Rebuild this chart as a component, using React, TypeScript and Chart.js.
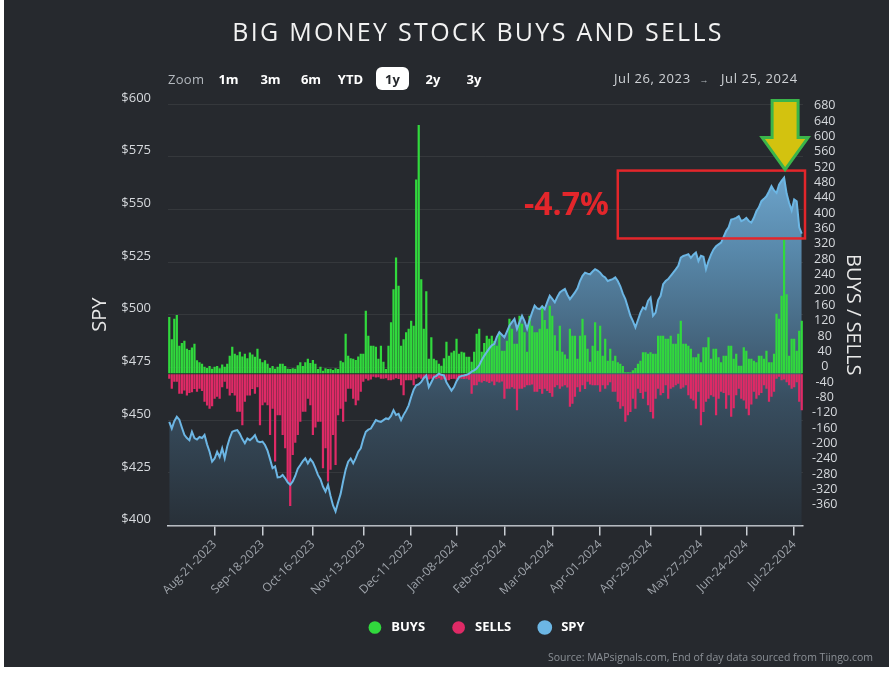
import React, { useEffect, useRef } from 'react';
import { Chart, registerables } from 'chart.js';

Chart.register(...registerables);

const FONT = '"Open Sans", "Noto Sans", sans-serif';

// ---------- data ----------
const HOLIDAYS = ['2023-09-04', '2023-11-23', '2023-12-25', '2024-01-01', '2024-01-15', '2024-02-19', '2024-03-29', '2024-05-27', '2024-06-19', '2024-07-04'];

function tradingDays(start: string, end: string): string[] {
  const out: string[] = [];
  const d = new Date(start + 'T12:00:00Z');
  const e = new Date(end + 'T12:00:00Z');
  while (d <= e) {
    const wd = d.getUTCDay();
    const iso = d.toISOString().slice(0, 10);
    if (wd !== 0 && wd !== 6 && !HOLIDAYS.includes(iso)) out.push(iso);
    d.setUTCDate(d.getUTCDate() + 1);
  }
  return out;
}

const DATES = tradingDays('2023-07-26', '2024-07-25');

const BUYS = [
  148, 90, 143, 153, 73, 80, 86, 65, 62, 68,
  78, 35, 30, 26, 18, 15, 20, 13, 18, 20,
  14, 24, 18, 26, 47, 70, 52, 48, 57, 45,
  52, 40, 55, 50, 44, 65, 39, 30, 35, 26,
  15, 20, 13, 18, 26, 26, 20, 13, 12, 14,
  13, 22, 30, 20, 30, 39, 28, 36, 26, 12,
  18, 8, 14, 12, 13, 10, 14, 12, 34, 30,
  104, 47, 40, 39, 36, 45, 52, 52, 164, 99,
  73, 73, 70, 39, 73, 31, 12, 73, 134, 220,
  303, 229, 73, 90, 108, 117, 138, 125, 506, 648,
  246, 117, 215, 39, 95, 39, 35, 26, 21, 40,
  83, 47, 55, 60, 91, 52, 57, 55, 44, 44,
  31, 57, 104, 117, 57, 80, 99, 91, 99, 85,
  73, 108, 60, 60, 86, 143, 117, 78, 78, 151,
  130, 108, 57, 151, 125, 108, 108, 117, 177, 140,
  117, 177, 151, 100, 60, 125, 57, 50, 39, 117,
  99, 99, 39, 99, 143, 100, 65, 31, 73, 134,
  60, 125, 47, 91, 34, 65, 34, 47, 30, 26,
  20, 4, 4, 4, 9, 15, 26, 34, 56, 56,
  52, 56, 52, 52, 99, 99, 99, 91, 91, 99,
  78, 78, 104, 138, 78, 78, 73, 65, 43, 43,
  52, 30, 69, 69, 95, 39, 65, 65, 43, 30,
  47, 47, 73, 73, 39, 52, 21, 21, 69, 60,
  39, 39, 34, 30, 47, 47, 39, 60, 30, 30,
  52, 156, 143, 203, 350, 207, 47, 91, 91, 60,
  112, 138,
];

const SELLS = [
  -13, -39, -21, -21, -52, -52, -44, -57, -50, -48,
  -40, -47, -39, -45, -73, -83, -91, -85, -65, -60,
  -65, -35, -21, -39, -57, -50, -57, -99, -99, -134,
  -73, -57, -57, -40, -52, -35, -134, -82, -75, -82,
  -160, -91, -229, -108, -108, -160, -194, -281, -345, -212,
  -180, -160, -125, -99, -99, -65, -82, -160, -140, -125,
  -125, -246, -194, -281, -250, -160, -238, -108, -91, -125,
  -73, -39, -39, -65, -82, -70, -47, -21, -13, -18,
  -15, -8, -10, -9, -13, -13, -12, -17, -17, -15,
  -12, -14, -30, -56, -17, -17, -17, -30, -13, -10,
  -13, -13, -12, -15, -13, -11, -14, -12, -16, -13,
  -17, -17, -14, -13, -15, -12, -13, -14, -13, -16,
  -52, -30, -30, -21, -23, -19, -21, -24, -20, -30,
  -21, -23, -20, -65, -39, -39, -35, -39, -95, -39,
  -39, -35, -30, -30, -28, -47, -47, -40, -52, -39,
  -45, -50, -60, -35, -30, -39, -33, -30, -36, -86,
  -78, -60, -35, -47, -30, -40, -21, -28, -30, -30,
  -30, -47, -30, -39, -30, -22, -47, -47, -73, -91,
  -85, -125, -108, -100, -65, -91, -39, -50, -65, -47,
  -82, -100, -117, -65, -39, -56, -50, -30, -65, -39,
  -35, -30, -26, -39, -36, -30, -56, -65, -70, -91,
  -47, -134, -100, -73, -65, -56, -60, -108, -65, -47,
  -50, -91, -56, -112, -90, -56, -39, -65, -70, -91,
  -108, -80, -47, -65, -56, -50, -30, -39, -73, -60,
  -47, -13, -8, -17, -15, -22, -30, -39, -35, -22,
  -73, -95,
];

const SPY = [
  449.2, 446.0, 449.5, 451.6, 450.2, 446.5, 443.0, 441.5, 440.5, 444.5,
  441.5, 440.8, 442.0, 441.5, 443.0, 438.5, 435.0, 430.3, 431.8, 435.0,
  432.5, 436.6, 431.9, 437.5, 441.5, 444.5, 445.0, 445.3, 443.5, 441.0,
  439.0, 441.3, 440.5, 441.5, 442.9, 440.0, 439.5, 439.8, 438.2, 435.5,
  431.5, 427.2, 428.0, 422.8, 423.0, 424.0, 422.4, 420.5, 419.3, 420.9,
  423.5, 427.0, 428.7, 430.5, 431.9, 429.5, 431.5, 430.0, 427.2, 424.0,
  422.0, 418.5, 416.1, 419.3, 414.0, 409.5, 406.7, 411.0, 415.0, 421.0,
  426.5, 430.3, 431.8, 429.5, 432.0, 435.0, 436.6, 441.0, 444.5, 445.5,
  446.0, 448.0, 450.0, 449.5, 449.2, 450.0, 450.8, 450.5, 452.0, 454.7,
  452.5, 453.0, 450.0, 452.5, 454.5, 457.0, 461.0, 464.5, 466.5, 467.0,
  468.1, 470.0, 471.2, 465.7, 468.0, 470.4, 471.0, 472.0, 471.5, 471.2,
  468.0, 466.0, 464.0, 465.7, 468.5, 470.4, 471.0, 471.2, 471.5, 472.0,
  473.0, 473.6, 474.5, 476.0, 478.5, 480.5, 482.3, 484.0, 485.5, 486.2,
  489.5, 491.7, 490.5, 489.3, 492.0, 494.8, 496.5, 498.0, 493.3, 496.5,
  499.5, 497.0, 493.3, 497.5, 501.1, 504.3, 503.0, 502.7, 504.0, 502.7,
  506.0, 509.0, 507.5, 505.9, 508.5, 510.6, 511.5, 512.2, 509.5, 507.4,
  509.0, 510.6, 512.5, 516.0, 518.5, 520.0, 519.5, 519.2, 520.5, 521.6,
  521.0, 520.0, 518.5, 517.7, 516.0, 516.5, 516.9, 517.7, 516.0, 513.5,
  510.0, 507.4, 503.5, 499.5, 497.0, 494.0, 497.5, 501.0, 503.5, 502.7,
  506.6, 508.2, 499.5, 501.0, 507.0, 509.0, 514.5, 516.0, 516.9, 518.5,
  520.0, 521.5, 523.2, 527.1, 527.9, 528.3, 528.7, 527.0, 528.5, 529.5,
  525.5, 528.0, 527.5, 521.6, 525.5, 528.5, 531.0, 532.5, 533.4, 534.2,
  537.0, 539.7, 541.5, 545.2, 545.5, 546.0, 546.8, 544.4, 545.0, 546.0,
  544.5, 543.7, 546.0, 549.1, 551.0, 553.9, 555.0, 556.2, 558.5, 561.0,
  559.0, 557.8, 561.7, 563.5, 565.0, 557.5, 553.0, 549.5, 554.7, 553.8,
  541.5, 538.5,
];

const X_TICK_DATES = ['2023-08-21', '2023-09-18', '2023-10-16', '2023-11-13', '2023-12-11', '2024-01-08', '2024-02-05', '2024-03-04', '2024-04-01', '2024-04-29', '2024-05-27', '2024-06-24', '2024-07-22'];
const X_TICK_LABELS = ['Aug-21-2023', 'Sep-18-2023', 'Oct-16-2023', 'Nov-13-2023', 'Dec-11-2023', 'Jan-08-2024', 'Feb-05-2024', 'Mar-04-2024', 'Apr-01-2024', 'Apr-29-2024', 'May-27-2024', 'Jun-24-2024', 'Jul-22-2024'];
const SPY_TICKS = [400, 425, 450, 475, 500, 525, 550, 575, 600];
const BS_TICKS = [-360, -320, -280, -240, -200, -160, -120, -80, -40, 0, 40, 80, 120, 160, 200, 240, 280, 320, 360, 400, 440, 480, 520, 560, 600, 640, 680];

// annotation (in data units)
const DROP_LABEL = '-4.7%';
const BOX_FROM_DATE = '2024-04-10';
const BOX_TOP = 568.4;
const BOX_BOTTOM = 536.2;

const BG = '#26292e';
const GREEN = '#31d93d';
const RED = '#df2a66';
const BLUE = '#6cb6e4';

const annotationPlugin = {
  id: 'dropAnnotation',
  afterDatasetsDraw(chart: any) {
    const { ctx, chartArea, scales } = chart;
    const xs = scales.x;
    const ys = scales.yL;
    const fromIdx = DATES.findIndex((d) => d >= BOX_FROM_DATE);
    const left = xs.getPixelForValue(fromIdx);
    const right = chartArea.right + 2;
    const top = ys.getPixelForValue(BOX_TOP);
    const bottom = ys.getPixelForValue(BOX_BOTTOM);
    ctx.save();
    ctx.strokeStyle = '#e3262b';
    ctx.lineWidth = 2.5;
    ctx.strokeRect(left, top, right - left, bottom - top);
    ctx.fillStyle = '#e3262b';
    ctx.font = `bold 32px ${FONT}`;
    ctx.textAlign = 'right';
    ctx.textBaseline = 'middle';
    ctx.fillText(DROP_LABEL, left - 9, (top + bottom) / 2 + 1);

    // arrow pointing at the SPY peak
    let peak = 0;
    SPY.forEach((v, i) => { if (v > SPY[peak]) peak = i; });
    const tx = xs.getPixelForValue(peak) + 1;
    const ty = top - 1;
    ctx.beginPath();
    ctx.moveTo(tx, ty);
    ctx.lineTo(tx + 23, ty - 32);
    ctx.lineTo(tx + 13, ty - 32);
    ctx.lineTo(tx + 13, ty - 69);
    ctx.lineTo(tx - 13, ty - 69);
    ctx.lineTo(tx - 13, ty - 32);
    ctx.lineTo(tx - 23, ty - 32);
    ctx.closePath();
    ctx.fillStyle = '#d3c20f';
    ctx.fill();
    ctx.lineWidth = 3;
    ctx.strokeStyle = '#3bb54a';
    ctx.lineJoin = 'miter';
    ctx.stroke();
    ctx.restore();
  },
};

function Txt(props: { x: number; y: number; size?: number; color?: string; weight?: number | string; align?: 'left' | 'center' | 'right'; spacing?: number; children: React.ReactNode }) {
  const { x, y, size = 13, color = '#d0d3d7', weight = 400, align = 'left', spacing = 0, children } = props;
  const tx = align === 'center' ? '-50%' : align === 'right' ? '-100%' : '0';
  return (
    <div
      style={{
        position: 'absolute',
        left: x,
        top: y,
        transform: `translate(${tx}, -50%)`,
        fontFamily: FONT,
        fontSize: size,
        lineHeight: 1,
        color,
        fontWeight: weight as any,
        letterSpacing: spacing,
        whiteSpace: 'nowrap',
      }}
    >
      {children}
    </div>
  );
}

export default function App() {
  const ref = useRef<HTMLCanvasElement>(null);

  useEffect(() => {
    const canvas = ref.current!;
    const tickIdx = X_TICK_DATES.map((td) => DATES.findIndex((d) => d >= td));

    const areaFill = (c: any) => {
      const chart = c.chart;
      const area = chart.chartArea;
      if (!area) return 'rgba(0,0,0,0)';
      const g = chart.ctx.createLinearGradient(0, area.top, 0, area.bottom);
      g.addColorStop(0, 'rgb(128,190,234)');
      g.addColorStop(0.35, 'rgb(88,136,170)');
      g.addColorStop(0.7, 'rgb(56,78,96)');
      g.addColorStop(1, 'rgb(40,48,56)');
      return g;
    };

    const defaultGen = (Chart as any).defaults.plugins.legend.labels.generateLabels;

    const chart = new Chart(canvas, {
      type: 'bar',
      data: {
        labels: DATES,
        datasets: [
          {
            type: 'bar',
            label: 'BUYS',
            data: BUYS,
            yAxisID: 'yB',
            backgroundColor: GREEN,
            borderWidth: 0,
            grouped: false,
            barPercentage: 1,
            categoryPercentage: 0.88,
            order: 2,
          } as any,
          {
            type: 'bar',
            label: 'SELLS',
            data: SELLS,
            yAxisID: 'yB',
            backgroundColor: RED,
            borderWidth: 0,
            grouped: false,
            barPercentage: 1,
            categoryPercentage: 0.88,
            order: 2,
          } as any,
          {
            type: 'line',
            label: 'SPY',
            data: SPY,
            yAxisID: 'yL',
            borderColor: BLUE,
            backgroundColor: BLUE,
            borderWidth: 2,
            pointRadius: 0,
            tension: 0,
            fill: false,
            order: 0,
          } as any,
          {
            type: 'line',
            label: 'SPY area',
            data: SPY,
            yAxisID: 'yL',
            borderWidth: 0,
            borderColor: 'rgba(0,0,0,0)',
            backgroundColor: areaFill,
            pointRadius: 0,
            tension: 0,
            fill: 'start',
            order: 5,
          } as any,
        ],
      },
      options: {
        responsive: false,
        animation: false,
        events: [],
        layout: { padding: { left: 88, right: 28, top: 104, bottom: 30 } },
        plugins: {
          tooltip: { enabled: false },
          title: { display: false },
          legend: {
            display: true,
            position: 'bottom',
            labels: {
              color: '#ffffff',
              font: { family: FONT, size: 13, weight: 'bold' },
              usePointStyle: true,
              pointStyle: 'circle',
              boxWidth: 13,
              boxHeight: 9,
              padding: 27,
              filter: (item: any) => item.datasetIndex !== 3,
              sort: (a: any, b: any) => a.datasetIndex - b.datasetIndex,
              generateLabels: (ch: any) =>
                defaultGen(ch).map((it: any) => ({ ...it, text: ' ' + it.text })),
            },
          },
        },
        scales: {
          x: {
            type: 'category',
            offset: true,
            grid: {
              display: true,
              drawOnChartArea: false,
              drawTicks: true,
              tickLength: 10,
              color: '#c9ced3',
              lineWidth: 1.5,
              offset: false,
            },
            border: { display: true, color: '#c9ced3', width: 1.5 },
            ticks: {
              autoSkip: false,
              minRotation: 45,
              maxRotation: 45,
              padding: 2,
              color: '#9ea3aa',
              font: { family: FONT, size: 12 },
              callback: (_v: any, i: number) => X_TICK_LABELS[i],
            },
            afterBuildTicks: (scale: any) => {
              scale.ticks = tickIdx.map((v) => ({ value: v }));
            },
            afterFit: (scale: any) => {
              scale.height = 68.5;
            },
          },
          yL: {
            type: 'linear',
            position: 'left',
            min: 400,
            max: 600,
            grid: { color: 'rgba(255,255,255,0.07)', lineWidth: 1, drawTicks: false },
            border: { display: false },
            ticks: {
              autoSkip: false,
              padding: 17,
              labelOffset: -6,
              color: '#d6d9dd',
              font: { family: FONT, size: 13 },
              callback: (v: any) => '$' + v,
            },
            afterBuildTicks: (scale: any) => {
              scale.ticks = SPY_TICKS.map((v) => ({ value: v }));
            },
            title: {
              display: true,
              text: 'SPY',
              color: '#e8e8e8',
              font: { family: FONT, size: 20 },
              padding: { top: 0, bottom: 0 },
            },
            afterFit: (scale: any) => {
              scale.width = 80;
            },
          },
          yB: {
            type: 'linear',
            position: 'right',
            min: -395.5,
            max: 702.8,
            grid: { drawOnChartArea: false, drawTicks: false },
            border: { display: false },
            ticks: {
              autoSkip: false,
              padding: 9,
              labelOffset: -7,
              crossAlign: 'center',
              color: '#d6d9dd',
              font: { family: FONT, size: 12.5 },
            },
            afterBuildTicks: (scale: any) => {
              scale.ticks = BS_TICKS.map((v) => ({ value: v }));
            },
            title: {
              display: true,
              text: 'BUYS / SELLS',
              color: '#e8e8e8',
              font: { family: FONT, size: 20 },
              padding: { top: 0, bottom: 0 },
            },
            afterFit: (scale: any) => {
              scale.width = 62;
            },
          },
        },
      } as any,
      plugins: [annotationPlugin],
    });
    return () => chart.destroy();
  }, []);

  return (
    <div style={{ position: 'absolute', left: 0, top: 0, width: 893, height: 674, background: '#ffffff', overflow: 'hidden' }}>
      <div style={{ position: 'absolute', left: 4, top: 0, width: 885, height: 667, background: BG }} />
      <canvas ref={ref} width={893} height={674} style={{ position: 'absolute', left: 0, top: 0, width: 893, height: 674 }} />
      <Txt x={478} y={31} size={25} color="#f2f2f2" align="center" spacing={2.3}>BIG MONEY STOCK BUYS AND SELLS</Txt>
      <Txt x={168} y={79} size={13} color="#b4b9bf" spacing={0.3}>Zoom</Txt>
      <Txt x={228.5} y={79} size={13} color="#ffffff" weight={700} align="center">1m</Txt>
      <Txt x={270.5} y={79} size={13} color="#ffffff" weight={700} align="center">3m</Txt>
      <Txt x={311} y={79} size={13} color="#ffffff" weight={700} align="center">6m</Txt>
      <Txt x={350.5} y={79} size={13} color="#ffffff" weight={700} align="center">YTD</Txt>
      <div style={{ position: 'absolute', left: 376, top: 67, width: 33, height: 23, borderRadius: 6, background: '#ffffff' }} />
      <Txt x={392.5} y={79} size={13} color="#25282c" weight={700} align="center">1y</Txt>
      <Txt x={433} y={79} size={13} color="#ffffff" weight={700} align="center">2y</Txt>
      <Txt x={474} y={79} size={13} color="#ffffff" weight={700} align="center">3y</Txt>
      <Txt x={614} y={78} size={13} color="#cfd2d6" spacing={0.6}>Jul 26, 2023</Txt>
      <Txt x={704} y={79} size={9} color="#b4b9bf" align="center">→</Txt>
      <Txt x={721} y={78} size={13} color="#cfd2d6" spacing={0.6}>Jul 25, 2024</Txt>
      <Txt x={873} y={657} size={10.5} color="#8b9096" align="right">Source: MAPsignals.com, End of day data sourced from Tiingo.com</Txt>
    </div>
  );
}
